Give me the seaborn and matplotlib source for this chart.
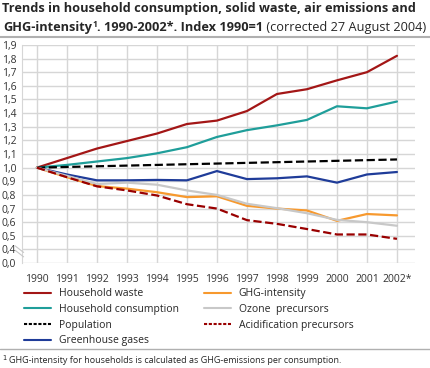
import matplotlib
matplotlib.use("Agg")
import matplotlib.pyplot as plt
import seaborn as sns
from matplotlib.lines import Line2D

# Data (index 1990 = 1)
years = list(range(1990, 2003))
year_labels = [str(y) for y in years[:-1]] + ["2002*"]

household_waste = [1.0, 1.07, 1.14, 1.195, 1.25, 1.32, 1.345, 1.415, 1.54, 1.575, 1.64, 1.70, 1.82]
household_consumption = [1.0, 1.02, 1.045, 1.07, 1.105, 1.15, 1.225, 1.275, 1.31, 1.35, 1.45, 1.435, 1.485]
population = [1.0, 1.005, 1.01, 1.015, 1.02, 1.025, 1.03, 1.035, 1.04, 1.045, 1.05, 1.055, 1.06]
greenhouse_gases = [1.0, 0.95, 0.907, 0.907, 0.91, 0.907, 0.975, 0.916, 0.922, 0.936, 0.89, 0.95, 0.968]
ghg_intensity = [1.0, 0.93, 0.865, 0.846, 0.82, 0.784, 0.79, 0.72, 0.70, 0.686, 0.61, 0.66, 0.65]
ozone_precursors = [1.0, 0.94, 0.88, 0.89, 0.875, 0.833, 0.80, 0.735, 0.703, 0.666, 0.617, 0.60, 0.574]
acidification = [1.0, 0.93, 0.863, 0.833, 0.796, 0.732, 0.70, 0.615, 0.588, 0.55, 0.51, 0.51, 0.478]

series = [
    ("Household waste", household_waste, "#a31616", "-"),
    ("Household consumption", household_consumption, "#1f9e9a", "-"),
    ("Population", population, "#000000", "--"),
    ("Greenhouse gases", greenhouse_gases, "#1f3c99", "-"),
    ("GHG-intensity", ghg_intensity, "#f7992e", "-"),
    ("Ozone  precursors", ozone_precursors, "#c8c8c8", "-"),
    ("Acidification precursors", acidification, "#990000", "--"),
]

sns.set_style("white")
plt.rcParams["font.family"] = ["Open Sans", "DejaVu Sans"]

fig = plt.figure(figsize=(4.3, 3.68), dpi=100)
ax = fig.add_axes([0.051, 0.285, 0.914, 0.593])

for name, vals, color, ls in series:
    sns.lineplot(x=years, y=vals, ax=ax, color=color, linestyle=ls, linewidth=1.6,
                 label=name, legend=False)

ax.set_xlim(1989.5, 2002.6)
ax.set_ylim(0.3, 1.9)
ax.set_xticks(years)
ax.set_xticklabels(year_labels, fontsize=7.5, color="#333333")
yt = [0.3 + 0.1 * i for i in range(17)]
ylabels = ["0,0"] + [("%.1f" % v).replace(".", ",") for v in yt[1:]]
ax.set_yticks(yt)
ax.set_yticklabels(ylabels, fontsize=7.5, color="#333333")
ax.tick_params(axis="y", length=0, pad=4)
ax.tick_params(axis="x", length=0, pad=8)
ax.grid(True, color="#d6d6d6", linewidth=1)
for s in ["top", "right", "bottom"]:
    ax.spines[s].set_visible(False)
ax.spines["left"].set_color("#d6d6d6")
ax.set_xlabel("")
ax.set_ylabel("")

# axis break marks
for dy in (0.0, 0.012):
    fig.add_artist(Line2D([0.035, 0.055], [0.320 + dy, 0.302 + dy], color="#c8c8c8", lw=0.8))

# Title
t1 = fig.text(0.005, 0.995, "Trends in household consumption, solid waste, air emissions and",
              fontsize=9.2, fontweight="bold", va="top", ha="left")
fig.canvas.draw()
r = fig.canvas.get_renderer()
parts = [("GHG-intensity", "bold", 9.2, 0), ("1", "bold", 6, 4),
         (". 1990-2002*. Index 1990=1", "bold", 9.2, 0), (" (corrected 27 August 2004)", "normal", 9.2, 0)]
x = 3
for txt, w, fs, up in parts:
    t = fig.text(x / 430, 1 - (31 - up) / 368, txt, fontsize=fs, fontweight=w, va="baseline", ha="left")
    x = t.get_window_extent(r).x1
fig.add_artist(Line2D([0, 1], [1 - 37 / 368, 1 - 37 / 368], color="#b0b0b0", lw=1.5))

# Legend
handles = []
for _, _, c, ls in series:
    if ls == "--":
        handles.append(Line2D([], [], color=c, linestyle=(0, (1.5, 0.8)), lw=1.5))
    else:
        handles.append(Line2D([], [], color=c, linestyle="-", lw=1.5))
labels = [n for n, _, _, _ in series]
fig.legend(handles, labels, loc="upper left", bbox_to_anchor=(0.033, 1 - 279 / 368), ncol=2,
           frameon=False, fontsize=7.5, handlelength=2.6, labelspacing=0.45, columnspacing=2.4,
           handletextpad=0.77)

fig.add_artist(Line2D([0, 1], [1 - 349 / 368, 1 - 349 / 368], color="#b0b0b0", lw=1))
fig.text(0.005, 1 - 363 / 368, "$^1$", fontsize=7, va="baseline")
fig.text(0.022, 1 - 363 / 368, "GHG-intensity for households is calculated as GHG-emissions per consumption.",
         fontsize=6.5, va="baseline")

fig.savefig("out.png", dpi=100)
